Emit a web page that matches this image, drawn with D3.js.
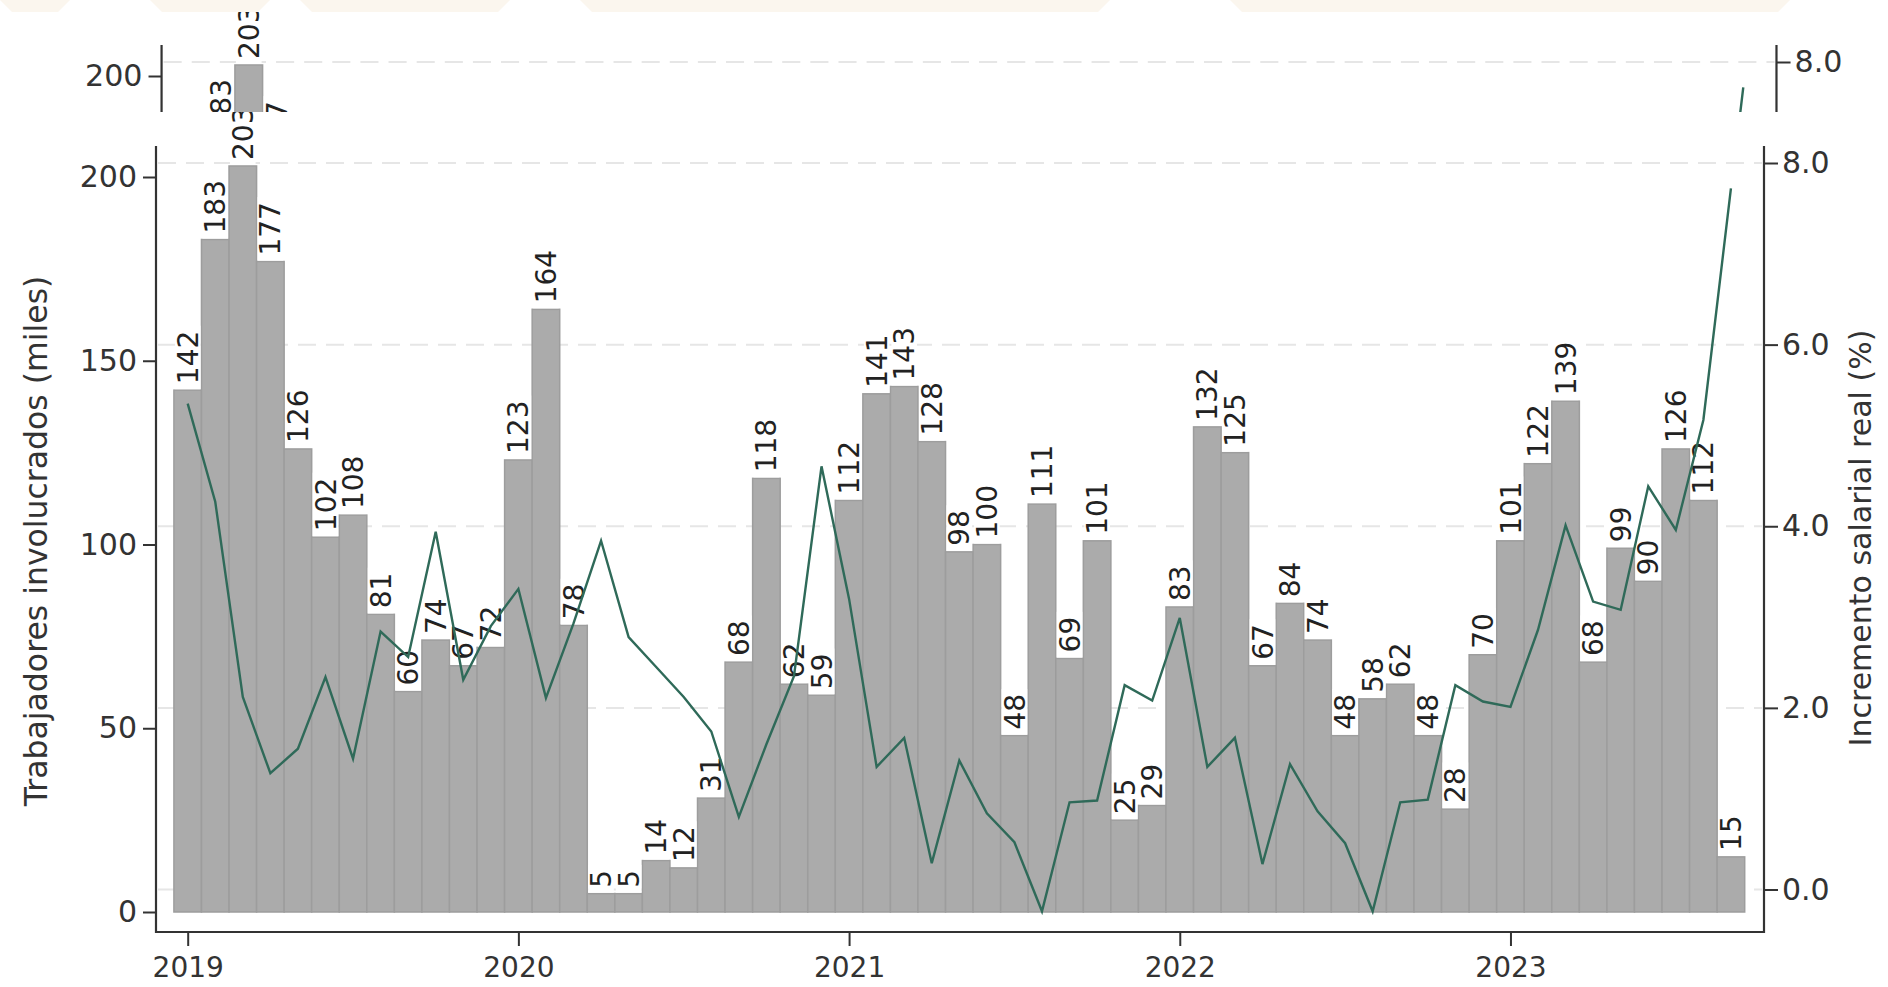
<!DOCTYPE html>
<html>
<head>
<meta charset="utf-8">
<script src="https://cdn.jsdelivr.net/npm/d3@7"></script>
<style>
body { margin: 0; background: #fff; }
text { font-family: "DejaVu Sans", sans-serif; }
</style>
</head>
<body>
<script>
// monthly data, Jan 2019 - Sep 2023
const years = ["2019", "2020", "2021", "2022", "2023"];
const workers = [142, 183, 203, 177, 126, 102, 108, 81, 60, 74, 67, 72,
                 123, 164, 78, 5, 5, 14, 12, 31, 68, 118, 62, 59,
                 112, 141, 143, 128, 98, 100, 48, 111, 69, 101, 25, 29,
                 83, 132, 125, 67, 84, 74, 48, 58, 62, 48, 28, 70,
                 101, 122, 139, 68, 99, 90, 126, 112, 15];
const wage = [5.35, 4.27, 2.12, 1.28, 1.55, 2.34, 1.44, 2.84, 2.56, 3.94, 2.31, 2.90,
              3.31, 2.11, 2.93, 3.84, 2.78, 2.45, 2.12, 1.74, 0.80, 1.60, 2.35, 4.66,
              3.20, 1.35, 1.67, 0.29, 1.42, 0.84, 0.52, -0.24, 0.96, 0.98, 2.25, 2.08,
              2.99, 1.35, 1.67, 0.28, 1.38, 0.86, 0.51, -0.24, 0.96, 0.99, 2.25, 2.07,
              2.01, 2.86, 4.01, 3.17, 3.08, 4.44, 3.96, 5.17, 7.72];
const leftTicks = [0, 50, 100, 150, 200];
const rightTicks = [0, 2, 4, 6, 8];
const yearTicks = [0, 12, 24, 36, 48];

var W = 1888, H = 987;
var svg = d3.select("body").append("svg")
    .attr("width", W)
    .attr("height", H);

var x = d3.scaleLinear().domain([-1.15, 57.2]).range([156, 1764]);
var y = d3.scaleLinear().domain([0, 200]).range([912, 177]);
var y2 = d3.scaleLinear().domain([0, 8]).range([889.5, 163]);
var bw = x(1) - x(0);

function drawChart(g, full) {
    // dashed grid on the right axis
    g.selectAll(".grid").data(rightTicks).enter()
        .append("line")
        .attr("x1", 158).attr("x2", 1762)
        .attr("y1", function(d) { return y2(d); })
        .attr("y2", function(d) { return y2(d); })
        .attr("stroke", "#e6e6e6")
        .attr("stroke-width", 2)
        .attr("stroke-dasharray", "18,10");

    g.selectAll(".bar").data(workers).enter()
        .append("rect")
        .attr("x", function(d, i) { return x(i) - bw / 2; })
        .attr("y", function(d) { return y(d); })
        .attr("width", bw)
        .attr("height", function(d) { return y(0) - y(d); })
        .attr("fill", "#ababab")
        .attr("stroke", "#9d9d9d")
        .attr("stroke-width", 1.5);

    // value labels, rotated, on a white box
    var lab = g.selectAll(".lab").data(full ? workers : workers.slice(0, 4)).enter()
        .append("g")
        .attr("transform", function(d, i) { return "translate(" + x(i) + "," + (y(d) - 1) + ") rotate(-90)"; });
    lab.append("rect").attr("fill", "#fff");
    lab.append("text")
        .attr("x", 5)
        .attr("dy", "0.36em")
        .attr("fill", "#222")
        .style("font-size", "28px")
        .text(function(d) { return d; })
        .each(function() {
            var len = this.getComputedTextLength();
            d3.select(this.previousSibling)
                .attr("x", 0).attr("y", -bw / 2 + 1)
                .attr("width", len + 10).attr("height", bw - 2);
        });

    var line = d3.line()
        .x(function(d, i) { return x(i); })
        .y(function(d) { return y2(d); });
    g.append("path").datum(wage)
        .attr("d", line)
        .attr("fill", "none")
        .attr("stroke", "#2f6a59")
        .attr("stroke-width", 2.4);

    // axes
    var ax = g.append("g").attr("transform", "translate(156,0)")
        .call(d3.axisLeft(y).tickValues(full ? leftTicks : [200]).tickSize(13).tickPadding(6));
    var ax2 = g.append("g").attr("transform", "translate(1764,0)")
        .call(d3.axisRight(y2).tickValues(full ? rightTicks : [8]).tickSize(14).tickPadding(4).tickFormat(d3.format(".1f")));
    var axes = [ax, ax2];
    if (full) {
        var axb = g.append("g").attr("transform", "translate(0,932)")
            .call(d3.axisBottom(x).tickValues(yearTicks).tickSize(14).tickPadding(11)
                .tickFormat(function(d, i) { return years[i]; }));
        axes.push(axb);
    }
    axes.forEach(function(a) {
        a.select(".domain").remove();
        a.selectAll("line").attr("stroke", "#333").attr("stroke-width", 2);
        a.selectAll("text").attr("fill", "#333").style("font-size", "30px");
    });
    if (full) axb.selectAll("text").style("font-size", "28px");
    g.append("path")
        .attr("d", "M156,146V932H1764V146")
        .attr("fill", "none")
        .attr("stroke", "#333")
        .attr("stroke-width", 2.2);

    if (!full) return;
    g.append("text")
        .attr("transform", "translate(36,541) rotate(-90)")
        .attr("text-anchor", "middle")
        .attr("dy", "0.35em")
        .attr("fill", "#333")
        .style("font-size", "31.5px")
        .text("Trabajadores involucrados (miles)");
    g.append("text")
        .attr("transform", "translate(1860,538) rotate(-90)")
        .attr("text-anchor", "middle")
        .attr("dy", "0.35em")
        .attr("fill", "#333")
        .style("font-size", "30px")
        .text("Incremento salarial real (%)");
}

drawChart(svg.append("g"), true);

// the reference has a shifted copy of the top of the chart pasted above it
svg.append("rect").attr("x", 0).attr("y", 0).attr("width", W).attr("height", 112).attr("fill", "#fff");
svg.append("clipPath").attr("id", "strip")
    .append("rect").attr("x", 0).attr("y", 12).attr("width", W).attr("height", 100);
var copy = svg.append("g").attr("clip-path", "url(#strip)")
    .append("g").attr("transform", "translate(4.9,-101) scale(1.0043,1)");
drawChart(copy, false);

// faint watermark strip at the very top
var marks = [[0, 70], [150, 270], [300, 510], [580, 1110], [1230, 1790]];
svg.selectAll(".wm").data(marks).enter()
    .append("path")
    .attr("d", function(d) { return "M" + d[0] + ",0H" + d[1] + "L" + (d[1] - 12) + ",12H" + (d[0] + 12) + "Z"; })
    .attr("fill", "#fbf6ee");
</script>
</body>
</html>
